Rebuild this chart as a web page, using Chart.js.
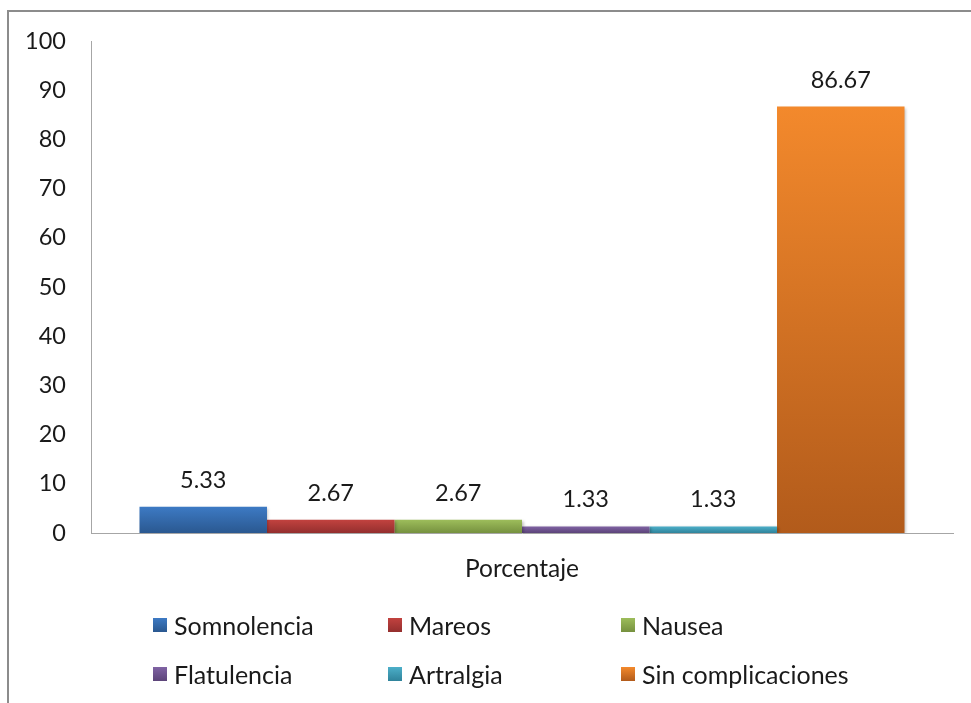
<!DOCTYPE html>
<html>
<head>
<meta charset="utf-8">
<script src="https://cdn.jsdelivr.net/npm/chart.js@4/dist/chart.umd.min.js"></script>
<style>
  html, body { margin: 0; padding: 0; background: #ffffff; overflow: hidden; }
  #wrap { position: relative; width: 971px; height: 703px; overflow: hidden; }
  #frame { position: absolute; left: 7px; top: 10px; width: 1000px; height: 1000px;
           border: 2px solid #8c8c8c; box-sizing: border-box; }
  #chart { position: absolute; left: 0; top: 0; }
  #legend { position: absolute; left: 0; top: 0; width: 971px; height: 703px; pointer-events: none;
            font-family: Lato, "Noto Sans", sans-serif; font-size: 25px; color: #1a1a1a; }
  .item { position: absolute; display: flex; align-items: center; white-space: nowrap; height: 28px; }
  .sw { width: 14px; height: 14px; margin-right: 7px; box-sizing: border-box; }
</style>
</head>
<body>
<div id="wrap">
  <div id="frame"></div>
  <canvas id="chart" width="971" height="703"></canvas>
  <div id="legend"></div>
</div>
<script>
// Categories and series
const categories = ['Porcentaje'];
const seriesNames = ['Somnolencia', 'Mareos', 'Nausea', 'Flatulencia', 'Artralgia', 'Sin complicaciones'];
const seriesValues = [5.33, 2.67, 2.67, 1.33, 1.33, 86.67];
// Gradient colours per series: top, bottom
const colorTop = ['#3d7ac4', '#c2423f', '#9dbd5b', '#8063a4', '#4cafc9', '#f3892c'];
const colorBottom = ['#2a5890', '#942f2e', '#76913f', '#5c4479', '#2f839b', '#b25b1b'];
// Value axis ticks
const yMin = 0, yMax = 100, yStep = 10;

const FONT = 'Lato, "Noto Sans", sans-serif';
const TEXT = '#1a1a1a';
const AXIS = '#a6a6a6';

function barFill(i) {
  return (ctx) => {
    const chart = ctx.chart;
    if (!chart.chartArea || ctx.type !== 'data' || !ctx.parsed) return colorTop[i];
    const y = chart.scales.y;
    const top = y.getPixelForValue(ctx.parsed.y);
    const bot = y.getPixelForValue(0);
    if (!isFinite(top) || !isFinite(bot) || top === bot) return colorTop[i];
    const g = chart.ctx.createLinearGradient(0, top, 0, bot);
    g.addColorStop(0, colorTop[i]);
    g.addColorStop(1, colorBottom[i]);
    return g;
  };
}

const datasets = seriesNames.map((name, i) => ({
  label: name,
  data: [seriesValues[i]],
  backgroundColor: barFill(i),
  borderWidth: 0,
  barPercentage: 1.0,
  categoryPercentage: 0.8875
}));

// Soft drop shadow under the bars, then value labels above each bar
const barDecor = {
  id: 'barDecor',
  beforeDatasetsDraw(chart) {
    const c = chart.ctx;
    c.save();
    c.shadowColor = 'rgba(0,0,0,0.28)';
    c.shadowBlur = 3;
    c.shadowOffsetX = 1.5;
    c.shadowOffsetY = 1;
  },
  afterDatasetsDraw(chart) {
    const c = chart.ctx;
    c.restore();
    c.save();
    c.font = '23.5px ' + FONT;
    c.fillStyle = TEXT;
    c.textAlign = 'center';
    c.textBaseline = 'alphabetic';
    chart.data.datasets.forEach((ds, i) => {
      const meta = chart.getDatasetMeta(i);
      meta.data.forEach((el, j) => {
        c.fillText(ds.data[j].toFixed(2), el.x, el.y - 19);
      });
    });
    c.restore();
  }
};

new Chart(document.getElementById('chart'), {
  type: 'bar',
  data: { labels: categories, datasets },
  plugins: [barDecor],
  options: {
    responsive: false,
    devicePixelRatio: 1,
    animation: false,
    layout: { padding: { top: 41, right: 18, left: 0, bottom: 0 } },
    plugins: { legend: { display: false }, tooltip: { enabled: false } },
    scales: {
      x: {
        grid: { display: false, drawTicks: false },
        border: { display: true, color: AXIS, width: 1 },
        ticks: { color: TEXT, font: { family: FONT, size: 24.5 }, padding: 21 },
        afterFit(scale) { scale.height = 170; }
      },
      y: {
        min: yMin, max: yMax,
        grid: { display: false, drawTicks: false },
        border: { display: true, color: AXIS, width: 1 },
        ticks: { stepSize: yStep, color: TEXT, font: { family: FONT, size: 23.5 }, padding: 25 },
        afterFit(scale) { scale.width = 91; }
      }
    }
  }
});

// Legend laid out in three columns, two rows
const legendCols = [153, 388, 621];
const legendRows = [611, 660];
const legend = document.getElementById('legend');
seriesNames.forEach((name, i) => {
  const item = document.createElement('div');
  item.className = 'item';
  item.style.left = legendCols[i % 3] + 'px';
  item.style.top = legendRows[Math.floor(i / 3)] + 'px';
  const sw = document.createElement('span');
  sw.className = 'sw';
  sw.style.background = 'linear-gradient(' + colorTop[i] + ',' + colorBottom[i] + ')';
  const tx = document.createElement('span');
  tx.textContent = name;
  item.appendChild(sw);
  item.appendChild(tx);
  legend.appendChild(item);
});
</script>
</body>
</html>
